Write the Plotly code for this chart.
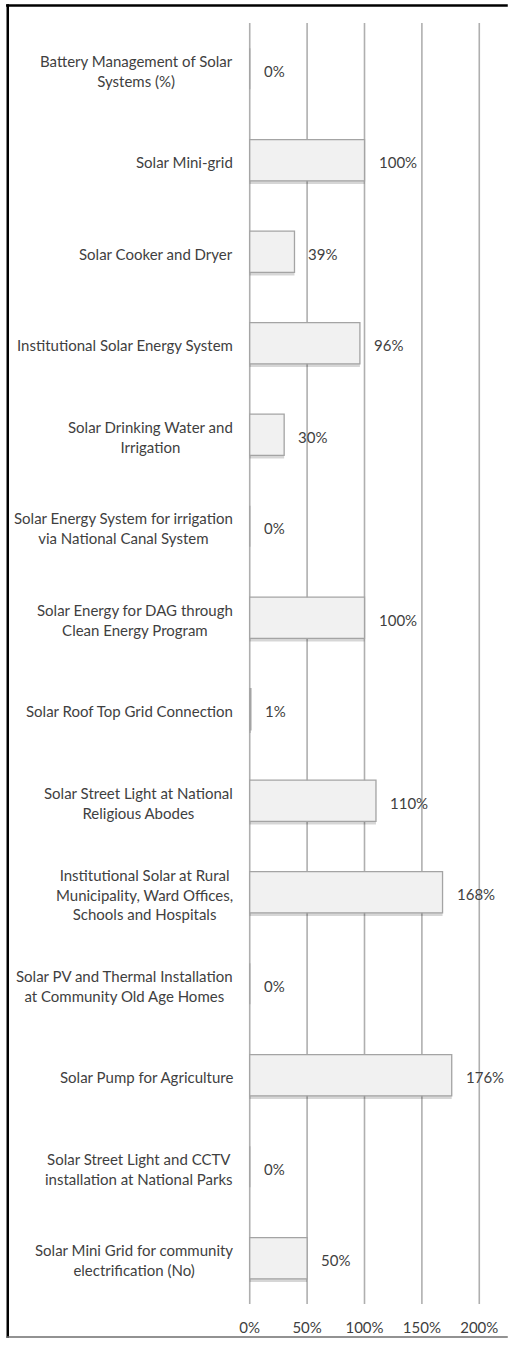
import plotly.graph_objects as go

# Solar programme progress, listed top to bottom
categories = [
    "Battery Management of Solar<br>Systems (%)",
    "Solar Mini-grid",
    "Solar Cooker and Dryer",
    "Institutional Solar Energy System",
    "Solar Drinking Water and<br>Irrigation",
    "Solar Energy System for irrigation<br>via National Canal System",
    "Solar Energy for DAG through<br>Clean Energy Program",
    "Solar Roof Top Grid Connection",
    "Solar Street Light at National<br>Religious Abodes",
    "Institutional Solar at Rural<br>Municipality, Ward Offices,<br>Schools and Hospitals",
    "Solar PV and Thermal Installation<br>at Community Old Age Homes",
    "Solar Pump for Agriculture",
    "Solar Street Light and CCTV<br>installation at National Parks",
    "Solar Mini Grid for community<br>electrification (No)",
]
progress_pct = [0, 100, 39, 96, 30, 0, 100, 1, 110, 168, 0, 176, 0, 50]

tick_values = [0, 50, 100, 150, 200]
tick_labels = ["0%", "50%", "100%", "150%", "200%"]

W, H = 510, 1348
ML, MR, MT, MB = 248, 27, 23, 35
PW, PH = W - ML - MR, H - MT - MB

FONT = "Lato"
FONT_SIZE = 15
TEXT_COLOR = "#3f3f3f"
GRID_COLOR = "#afafaf"
BAR_WIDTH = 0.45


def px_x(px):
    return (px - ML) / PW


def px_y(py):
    return (H - MB - py) / PH


fig = go.Figure()

# soft shadow just beneath each bar
fig.add_trace(go.Bar(
    x=progress_pct,
    y=categories,
    orientation="h",
    marker=dict(color="rgba(0,0,0,0.16)", line=dict(width=0)),
    width=BAR_WIDTH,
    offset=-BAR_WIDTH / 2 + 0.035,
    hoverinfo="skip",
    showlegend=False,
))

fig.add_trace(go.Bar(
    x=progress_pct,
    y=categories,
    orientation="h",
    marker=dict(color="#f1f1f1", line=dict(color="#a4a4a4", width=1.3)),
    width=BAR_WIDTH,
    offset=-BAR_WIDTH / 2,
    showlegend=False,
))

# vertical gridlines, including both ends of the value range
for tv in tick_values:
    fig.add_shape(type="line", xref="x", yref="paper",
                  x0=tv, x1=tv, y0=0, y1=1, layer="below",
                  line=dict(color=GRID_COLOR, width=1.6))

# data labels to the right of each bar
for cat, v in zip(categories, progress_pct):
    fig.add_annotation(
        x=v, y=cat, xref="x", yref="y",
        text=f"{v}%", showarrow=False,
        xanchor="left", xshift=12, yshift=-2,
        font=dict(family=FONT, size=FONT_SIZE, color=TEXT_COLOR),
    )

# wrapped category labels, centred line by line, right-aligned to the axis
for cat in categories:
    fig.add_annotation(
        x=0, y=cat, xref="x", yref="y",
        text=cat, showarrow=False,
        xanchor="right", align="center", xshift=-15, yshift=-2,
        font=dict(family=FONT, size=FONT_SIZE, color=TEXT_COLOR),
    )

# outer frame
fig.add_shape(type="line", xref="paper", yref="paper",
              x0=px_x(4), x1=px_x(W), y0=px_y(5.3), y1=px_y(5.3),
              line=dict(color="#000000", width=2.5))
fig.add_shape(type="line", xref="paper", yref="paper",
              x0=px_x(5.7), x1=px_x(5.7), y0=px_y(4), y1=px_y(1347),
              line=dict(color="#000000", width=2.5))
fig.add_shape(type="line", xref="paper", yref="paper",
              x0=px_x(4), x1=px_x(W), y0=px_y(1346.3), y1=px_y(1346.3),
              line=dict(color="#6e6e6e", width=1.5))

fig.update_layout(
    width=W, height=H,
    margin=dict(l=ML, r=MR, t=MT, b=MB),
    paper_bgcolor="white",
    plot_bgcolor="white",
    barmode="overlay",
    font=dict(family=FONT, size=FONT_SIZE, color=TEXT_COLOR),
    xaxis=dict(
        range=[-1.5, 201.5],
        tickvals=tick_values,
        ticktext=tick_labels,
        showgrid=False,
        zeroline=False,
        showline=False,
        ticks="outside",
        ticklen=10,
        tickcolor="rgba(0,0,0,0)",
        tickfont=dict(family=FONT, size=FONT_SIZE, color=TEXT_COLOR),
        fixedrange=True,
    ),
    yaxis=dict(
        categoryorder="array",
        categoryarray=categories,
        autorange="reversed",
        showticklabels=False,
        showgrid=False,
        zeroline=False,
        showline=False,
        ticks="",
        fixedrange=True,
    ),
)

fig.write_html("out.html")
